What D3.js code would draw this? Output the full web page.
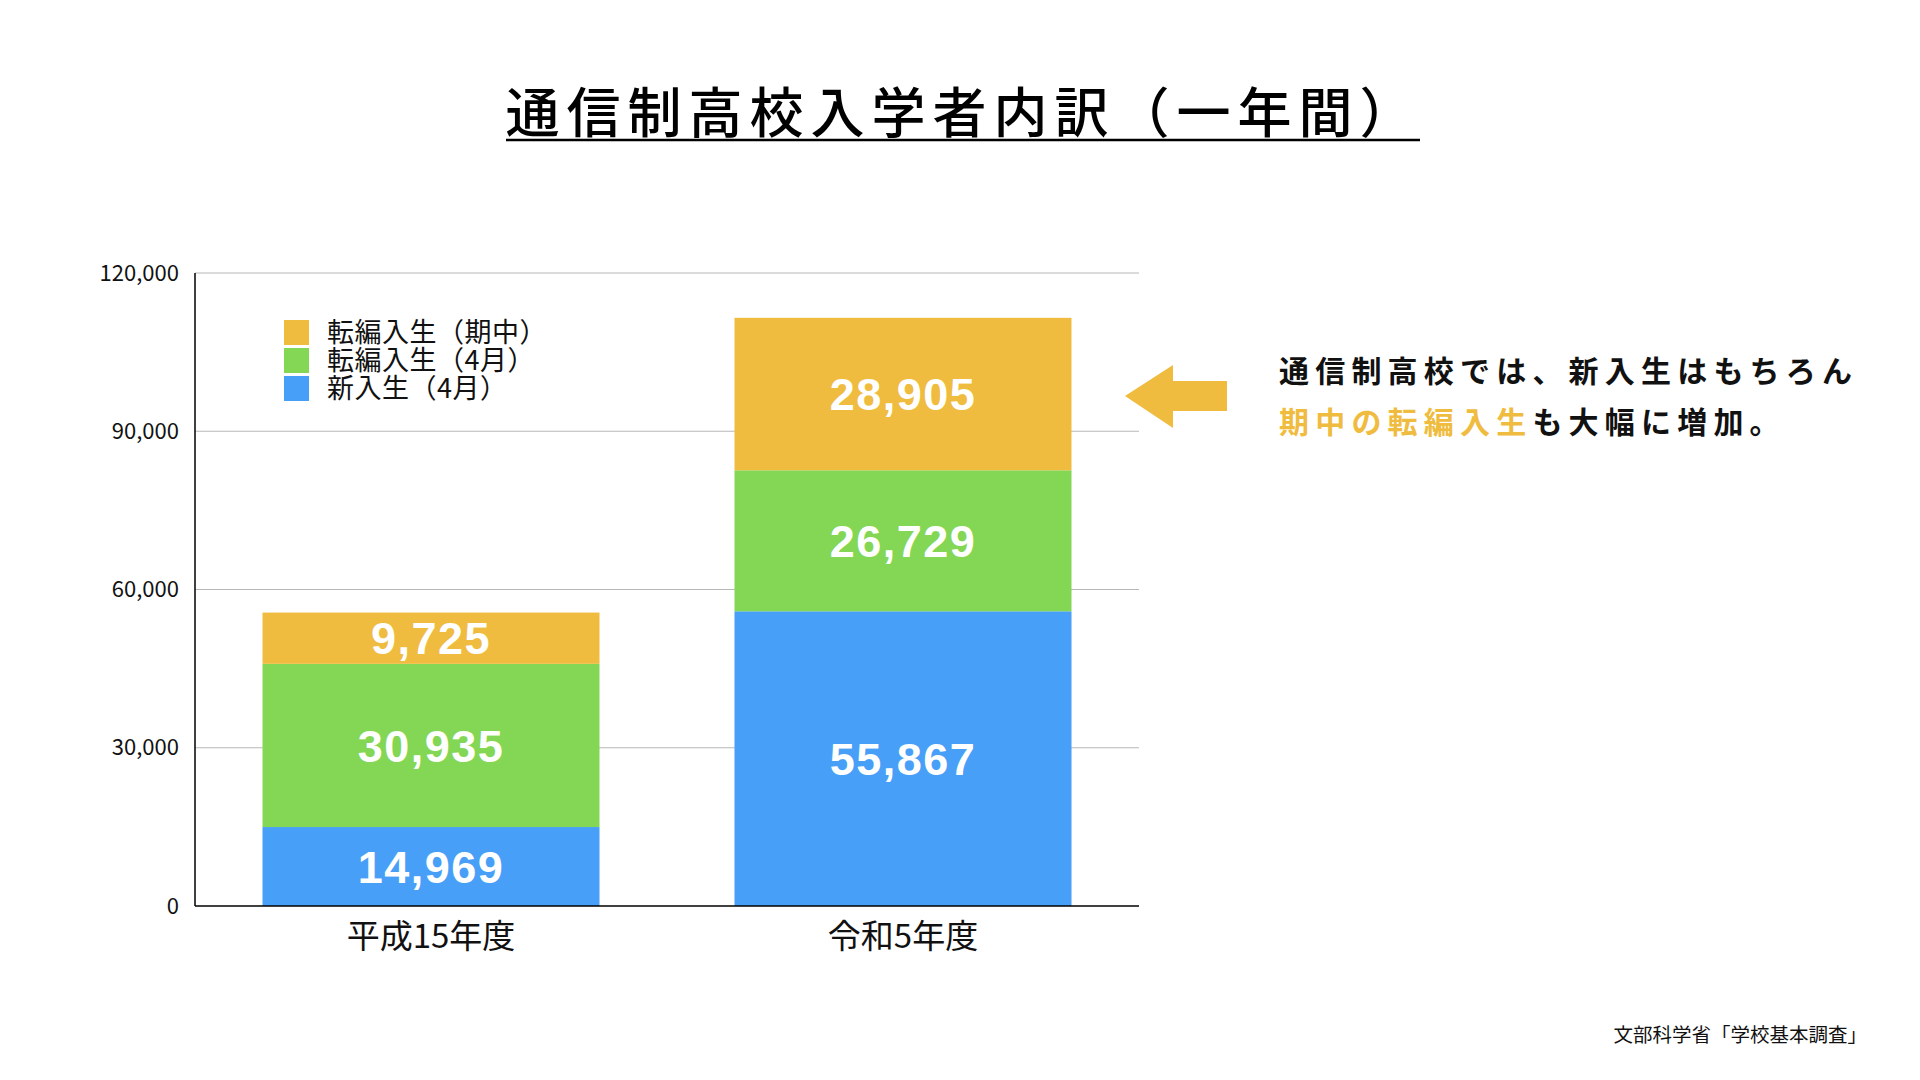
<!DOCTYPE html>
<html><head><meta charset="utf-8">
<script src="https://cdn.jsdelivr.net/npm/d3@7"></script>
<style>
html,body{margin:0;padding:0;background:#fff;}
svg{display:block;}
</style></head>
<body>
<svg id="c" width="1920" height="1080"></svg>
<script>
const categories = ["平成15年度", "令和5年度"];
const seriesNames = ["新入生（4月）", "転編入生（4月）", "転編入生（期中）"];
const newStudents = [14969, 55867];
const transferApril = [30935, 26729];
const transferMid = [9725, 28905];
const yTicks = [0, 30000, 60000, 90000, 120000];
const colors = ["#489FF7", "#84D755", "#EFBC40"];

const title = "通信制高校入学者内訳（一年間）";
const noteLine1 = "通信制高校では、新入生はもちろん";
const noteLine2a = "期中の転編入生";
const noteLine2b = "も大幅に増加。";
const source = "文部科学省「学校基本調査」";

const svg = d3.select("#c");
const JP = "'Noto Sans CJK JP','Noto Sans',sans-serif";

const pLeft = 195, pRight = 1139, pTop = 273, pBottom = 906;
const x = d3.scaleBand().domain(categories).range([pLeft, pRight]).paddingInner(0.286).paddingOuter(0.143);
const y = d3.scaleLinear().domain([0, 120000]).range([pBottom, pTop]);

const rows = categories.map((c, i) => ({cat: c, s0: newStudents[i], s1: transferApril[i], s2: transferMid[i]}));
const stack = d3.stack().keys(["s0", "s1", "s2"])(rows);

// title
svg.append("text").attr("x", 963).attr("y", 133).attr("text-anchor", "middle")
  .attr("font-family", JP).attr("font-weight", 500).attr("font-size", 54)
  .attr("letter-spacing", 7).attr("fill", "#000").text(title);
svg.append("line").attr("x1", 506).attr("x2", 1420).attr("y1", 140).attr("y2", 140)
  .attr("stroke", "#000").attr("stroke-width", 2.5);

// gridlines
svg.append("g").selectAll("line").data(yTicks.filter(d => d > 0)).join("line")
  .attr("x1", pLeft).attr("x2", pRight).attr("y1", d => y(d)).attr("y2", d => y(d))
  .attr("stroke", "#b8b8b8").attr("stroke-width", 1.2);

// y axis labels
const yAxis = d3.axisLeft(y).tickValues(yTicks).tickFormat(d3.format(",")).tickSize(0).tickPadding(16);
const ya = svg.append("g").attr("transform", `translate(${pLeft},0)`).call(yAxis);
ya.select(".domain").remove();
ya.selectAll("text").attr("font-family", JP).attr("font-size", 22).attr("fill", "#111");

// bars
const layer = svg.append("g").selectAll("g").data(stack).join("g").attr("fill", (d, i) => colors[i]);
layer.selectAll("rect").data(d => d).join("rect")
  .attr("x", d => x(d.data.cat)).attr("width", x.bandwidth())
  .attr("y", d => y(d[1])).attr("height", d => y(d[0]) - y(d[1]));

// bar labels
const lbl = svg.append("g");
stack.forEach(s => {
  s.forEach(d => {
    lbl.append("text").attr("x", x(d.data.cat) + x.bandwidth() / 2)
      .attr("y", (y(d[0]) + y(d[1])) / 2).attr("dy", "0.36em")
      .attr("text-anchor", "middle").attr("fill", "#fff")
      .attr("font-family", "'Liberation Sans',Arial,sans-serif").attr("font-weight", "bold")
      .attr("font-size", 45).attr("letter-spacing", 1.5)
      .text(d3.format(",")(d[1] - d[0]));
  });
});

// axes lines
svg.append("line").attr("x1", pLeft).attr("x2", pLeft).attr("y1", pTop).attr("y2", pBottom).attr("stroke", "#000").attr("stroke-width", 1.5);
svg.append("line").attr("x1", pLeft).attr("x2", pRight).attr("y1", pBottom).attr("y2", pBottom).attr("stroke", "#000").attr("stroke-width", 1.5);

// x axis labels
const xAxis = d3.axisBottom(x).tickSize(0).tickPadding(19);
const xa = svg.append("g").attr("transform", `translate(0,${pBottom})`).call(xAxis);
xa.select(".domain").remove();
xa.selectAll("text").attr("font-family", JP).attr("font-size", 33).attr("fill", "#111");

// legend
const legendItems = [2, 1, 0];
const lg = svg.append("g");
legendItems.forEach((si, i) => {
  const yy = 320 + i * 28;
  lg.append("rect").attr("x", 284).attr("y", yy).attr("width", 25).attr("height", 25).attr("fill", colors[si]);
  lg.append("text").attr("x", 327).attr("y", yy + 12.5).attr("dy", "0.36em")
    .attr("font-family", JP).attr("font-size", 27).attr("letter-spacing", 0.5).attr("fill", "#111").text(seriesNames[si]);
});

// arrow
const arrowPts = [[1125, 396], [1173, 365], [1173, 381], [1227, 381], [1227, 411], [1173, 411], [1173, 428]];
svg.append("path").attr("d", d3.line()(arrowPts) + "Z").attr("fill", "#EFBC40");

// note
svg.append("text").attr("x", 1279).attr("y", 382).attr("font-family", JP).attr("font-weight", 700)
  .attr("font-size", 30).attr("letter-spacing", 6.2).attr("fill", "#111").text(noteLine1);
const t2 = svg.append("text").attr("x", 1279).attr("y", 433).attr("font-family", JP).attr("font-weight", 700)
  .attr("font-size", 30).attr("letter-spacing", 6.2).attr("fill", "#111");
t2.append("tspan").attr("fill", "#EFBC40").text(noteLine2a);
t2.append("tspan").text(noteLine2b);

// source
svg.append("text").attr("x", 1867).attr("y", 1042).attr("text-anchor", "end")
  .attr("font-family", JP).attr("font-size", 19.5).attr("fill", "#111").text(source);
</script>
</body></html>
